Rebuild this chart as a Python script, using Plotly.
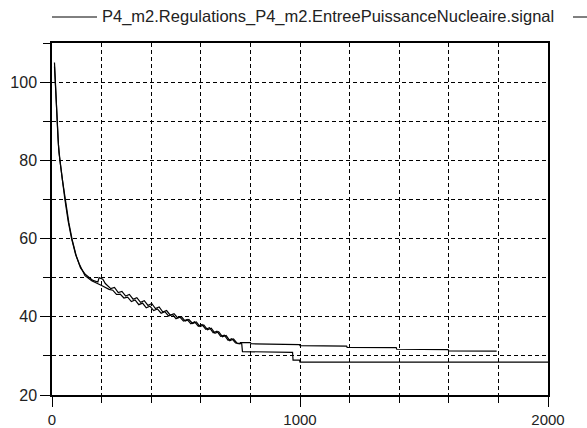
import plotly.graph_objects as go

# ---- data ----
legend_name = "P4_m2.Regulations_P4_m2.EntreePuissanceNucleaire.signal"

t_low = [10, 12, 15, 18, 22, 26, 32, 40, 52, 65, 79, 95, 110, 133, 160, 200,
         215, 230, 245, 260, 275, 290, 305, 320, 335, 350, 365, 380, 395, 410,
         425, 440, 455, 470, 485, 500, 515, 530, 545, 560, 575, 590, 605, 620,
         635, 650, 665, 680, 695, 710, 725, 740, 760, 765, 768, 970, 972, 998,
         1000, 2000]
v_low = [104, 101, 96, 92, 88, 84, 80, 75.5, 70, 64.5, 60, 56, 53.5, 50.5, 49.2, 48.0,
         47.5, 47.0, 46.8, 45.7, 45.8, 44.8, 45.0, 43.9, 44.3, 43.1, 43.5, 42.3, 42.7, 41.6,
         42.0, 40.9, 41.3, 40.2, 40.6, 39.5, 40.0, 38.9, 39.3, 38.2, 38.7, 37.6, 38.0, 36.8,
         37.2, 35.9, 36.3, 35.0, 35.3, 34.0, 34.4, 33.3, 33.2, 33.1, 31.1, 30.9, 28.9, 28.9,
         28.4, 28.4]

t_up = [10, 13, 16, 20, 24, 28, 33, 42, 55, 68, 82, 98, 115, 135, 165, 185, 190, 205,
        215, 222, 237, 252, 267, 282, 297, 312, 327, 342, 357, 372, 387, 402, 417,
        432, 447, 462, 477, 492, 507, 522, 537, 552, 567, 582, 597, 612, 627, 642,
        657, 672, 687, 702, 717, 732, 747, 758, 760, 800, 803, 998, 1000, 1188, 1190,
        1388, 1390, 1597, 1600, 1793]
v_up = [105, 100, 95, 90, 86, 82, 79, 75, 69.5, 64, 59.5, 55.5, 52.5, 50.8, 49.3, 48.9, 50.0, 49.6,
        48.5, 48.1, 47.2, 47.5, 46.2, 46.5, 45.3, 45.7, 44.5, 44.9, 43.7, 44.1, 42.9, 43.4, 42.1,
        42.5, 41.2, 41.6, 40.4, 40.8, 39.7, 40.0, 38.9, 39.3, 38.3, 38.7, 37.5, 37.9, 36.7, 37.1,
        35.8, 36.2, 34.9, 35.2, 33.9, 34.3, 33.2, 33.1, 33.4, 33.4, 33.1, 32.9, 32.6, 32.5, 32.2,
        32.1, 31.7, 31.6, 31.25, 31.2]

x_range = [0, 2000]
y_range = [20, 110]

fig = go.Figure()
fig.add_trace(go.Scatter(x=t_low, y=v_low, mode="lines", name=legend_name,
                         line=dict(color="black", width=1.2), showlegend=False))
fig.add_trace(go.Scatter(x=t_up, y=v_up, mode="lines", name="signal 2",
                         line=dict(color="black", width=1.2), showlegend=False))

axis_common = dict(
    showline=True, linecolor="black", linewidth=1.5, mirror=True,
    ticks="outside", ticklen=10, tickcolor="black", tickwidth=1.2,
    showgrid=True, gridcolor="black", gridwidth=1, griddash="4px,3px",
    zeroline=False, automargin=False,
    tickfont=dict(family="Liberation Sans, Arial, sans-serif", size=16, color="#222"),
)

fig.update_xaxes(range=x_range, tick0=0, dtick=1000, ticklabelstandoff=0,
                 tickfont=dict(family="Liberation Sans, Arial, sans-serif", size=15, color="#222"),
                 minor=dict(dtick=200, ticks="outside", ticklen=6, tickcolor="black",
                            showgrid=True, gridcolor="black", griddash="4px,3px", gridwidth=1),
                 **{k: v for k, v in axis_common.items() if k != "tickfont"})
fig.update_yaxes(range=y_range, tick0=20, dtick=20,
                 minor=dict(dtick=10, ticks="outside", ticklen=7, tickcolor="black",
                            showgrid=True, gridcolor="black", griddash="4px,3px", gridwidth=1),
                 **axis_common)

W, H = 587, 428
ml, mr, mt, mb = 52, 39, 43, 33
pw, ph = W - ml - mr, H - mt - mb

def px_x(p):
    return (p - ml) / pw

def px_y(p):
    return (H - mb - p) / ph

leg_y = 17
fig.add_shape(type="line", xref="paper", yref="paper",
              x0=px_x(52), x1=px_x(97), y0=px_y(leg_y), y1=px_y(leg_y),
              line=dict(color="black", width=1))
fig.add_shape(type="line", xref="paper", yref="paper",
              x0=px_x(573), x1=px_x(592), y0=px_y(leg_y), y1=px_y(leg_y),
              line=dict(color="black", width=1))
fig.add_annotation(text=legend_name, xref="paper", yref="paper",
                   x=px_x(100), y=px_y(leg_y), xanchor="left", yanchor="middle",
                   showarrow=False,
                   font=dict(family="Liberation Sans, Arial, sans-serif", size=16.5, color="#222"))

fig.update_layout(width=W, height=H,
                  margin=dict(l=ml, r=mr, t=mt, b=mb, pad=0),
                  paper_bgcolor="white", plot_bgcolor="white",
                  showlegend=False)

fig.write_html("out.html")
